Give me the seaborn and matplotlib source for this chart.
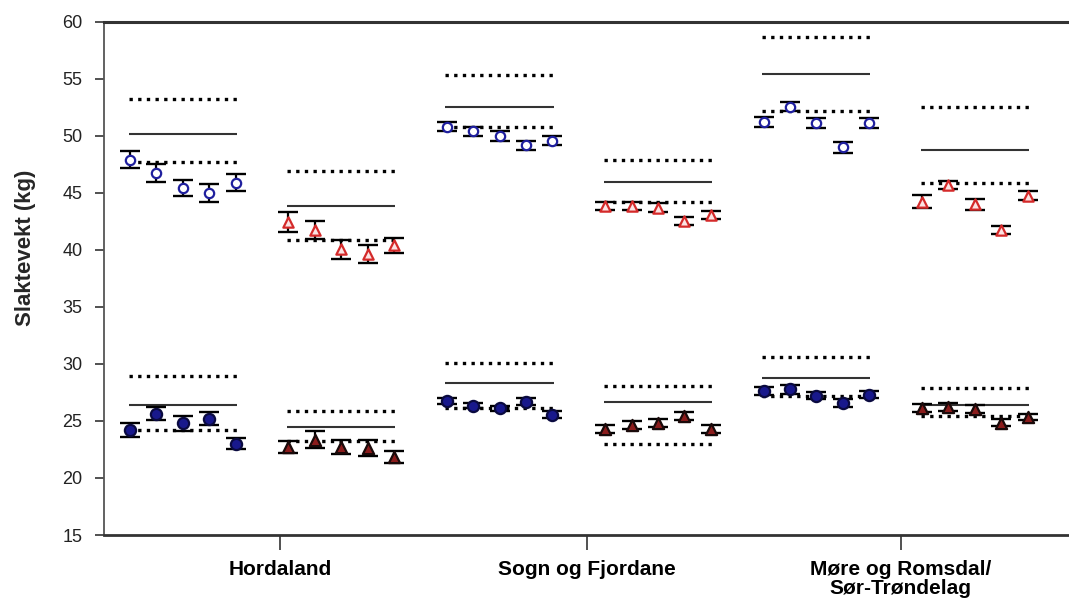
import pandas as pd
import seaborn as sns
import matplotlib.pyplot as plt

sns.set_theme(style="white")
plt.rcParams['font.family'] = ['Liberation Sans', 'DejaVu Sans']

regions = ["Hordaland", "Sogn og Fjordane", "Møre og Romsdal/\nSør-Trøndelag"]

# open circles (upper, blue)
open_circle_mean = [
    [47.9, 46.75, 45.45, 45.0, 45.9],
    [50.8, 50.4, 50.0, 49.2, 49.6],
    [51.25, 52.55, 51.15, 49.0, 51.15],
]
open_circle_err = [
    [0.75, 0.8, 0.7, 0.75, 0.75],
    [0.4, 0.4, 0.4, 0.4, 0.4],
    [0.45, 0.4, 0.45, 0.45, 0.45],
]
# reference lines: upper dotted, solid, lower dotted
open_circle_ref = [
    [53.2, 50.15, 47.75],
    [55.35, 52.55, 50.75],
    [58.7, 55.4, 52.2],
]

# open triangles (upper, red)
open_tri_mean = [
    [42.45, 41.75, 40.05, 39.65, 40.4],
    [43.85, 43.85, 43.7, 42.5, 43.05],
    [44.25, 45.7, 44.0, 41.75, 44.75],
]
open_tri_err = [
    [0.85, 0.8, 0.8, 0.75, 0.65],
    [0.35, 0.35, 0.4, 0.35, 0.35],
    [0.55, 0.35, 0.45, 0.35, 0.4],
]
open_tri_ref = [
    [46.95, 43.9, 40.85],
    [47.9, 45.95, 44.25],
    [52.5, 48.75, 45.9],
]

# filled circles (lower, blue)
filled_circle_mean = [
    [24.2, 25.65, 24.8, 25.2, 23.0],
    [26.75, 26.35, 26.1, 26.7, 25.55],
    [27.6, 27.8, 27.2, 26.6, 27.3],
]
filled_circle_err = [
    [0.6, 0.6, 0.65, 0.55, 0.5],
    [0.3, 0.25, 0.25, 0.3, 0.3],
    [0.35, 0.4, 0.3, 0.35, 0.3],
]
filled_circle_ref = [
    [28.95, 26.4, 24.2],
    [30.05, 28.3, 26.1],
    [30.6, 28.75, 27.2],
]

# filled triangles (lower, dark red)
filled_tri_mean = [
    [22.7, 23.35, 22.7, 22.6, 21.85],
    [24.3, 24.65, 24.8, 25.4, 24.3],
    [26.15, 26.25, 26.05, 24.85, 25.35],
]
filled_tri_err = [
    [0.55, 0.75, 0.6, 0.7, 0.5],
    [0.35, 0.35, 0.35, 0.35, 0.35],
    [0.35, 0.35, 0.35, 0.3, 0.3],
]
filled_tri_ref = [
    [25.85, 24.5, 23.25],
    [28.1, 26.7, 22.95],
    [27.9, 26.4, 25.45],
]

region_ticks = [5.7, 17.3, 29.2]

series = [
    # means, errs, refs, side, marker, face, edge, size
    (open_circle_mean, open_circle_err, open_circle_ref, 0, 'o', 'white', '#1f1f9e', 45),
    (open_tri_mean, open_tri_err, open_tri_ref, 1, '^', '#fbe3e3', '#d42a2a', 55),
    (filled_circle_mean, filled_circle_err, filled_circle_ref, 0, 'o', '#18188c', '#0a0a40', 65),
    (filled_tri_mean, filled_tri_err, filled_tri_ref, 1, '^', '#8b1c1c', '#1a0a0a', 65),
]

fig = plt.figure(figsize=(10.69, 6.05), dpi=100)
ax = fig.add_axes([0.0973, 0.1157, 0.9027, 0.848])

for means, errs, refs, side, marker, face, edge, size in series:
    rows = []
    for g in range(len(regions)):
        for i, (m, e) in enumerate(zip(means[g], errs[g])):
            rows.append({"x": 12 * g + 6 * side + i, "y": m, "err": e})
        x0 = 12 * g + 6 * side
        hi, mid, lo = refs[g]
        ax.hlines([hi, lo], x0 - 0.05, x0 + 4.05, colors='black', lw=2.4,
                  linestyles=[(0, (1, 1.6))], zorder=2)
        ax.hlines(mid, x0 - 0.05, x0 + 4.05, colors='#333333', lw=1.5, zorder=2)
    df = pd.DataFrame(rows)
    ax.errorbar(df["x"], df["y"], yerr=df["err"], fmt='none', ecolor='black',
                elinewidth=1.6, capsize=7, capthick=1.7, zorder=3)
    sns.scatterplot(data=df, x="x", y="y", ax=ax, marker=marker, s=size,
                    facecolor=face, edgecolor=edge, linewidth=1.6, zorder=4)

ax.set_xlim(-0.985, 35.57)
ax.set_ylim(15, 60)
ax.set_yticks(range(15, 61, 5))
ax.set_xticks(region_ticks)
ax.set_xticklabels(regions, fontsize=15, fontweight='bold', linespacing=1.0)
ax.tick_params(axis='y', labelsize=13, length=6.5, width=1.2, pad=9,
               left=True, colors='#333333', labelcolor='#222222')
ax.tick_params(axis='x', length=11, width=1.2, pad=7, bottom=True,
               colors='#333333', labelcolor='black')
ax.set_xlabel("")
ax.set_ylabel("Slaktevekt (kg)", fontsize=16, fontweight='bold')
ax.yaxis.set_label_coords(-0.07, 0.56)

ax.spines['right'].set_visible(False)
ax.spines['top'].set_linewidth(2.2)
ax.spines['top'].set_color('#333333')
ax.spines['bottom'].set_linewidth(2.0)
ax.spines['bottom'].set_color('#333333')
ax.spines['left'].set_linewidth(1.3)
ax.spines['left'].set_color('#555555')

fig.savefig("out.png", dpi=100)
